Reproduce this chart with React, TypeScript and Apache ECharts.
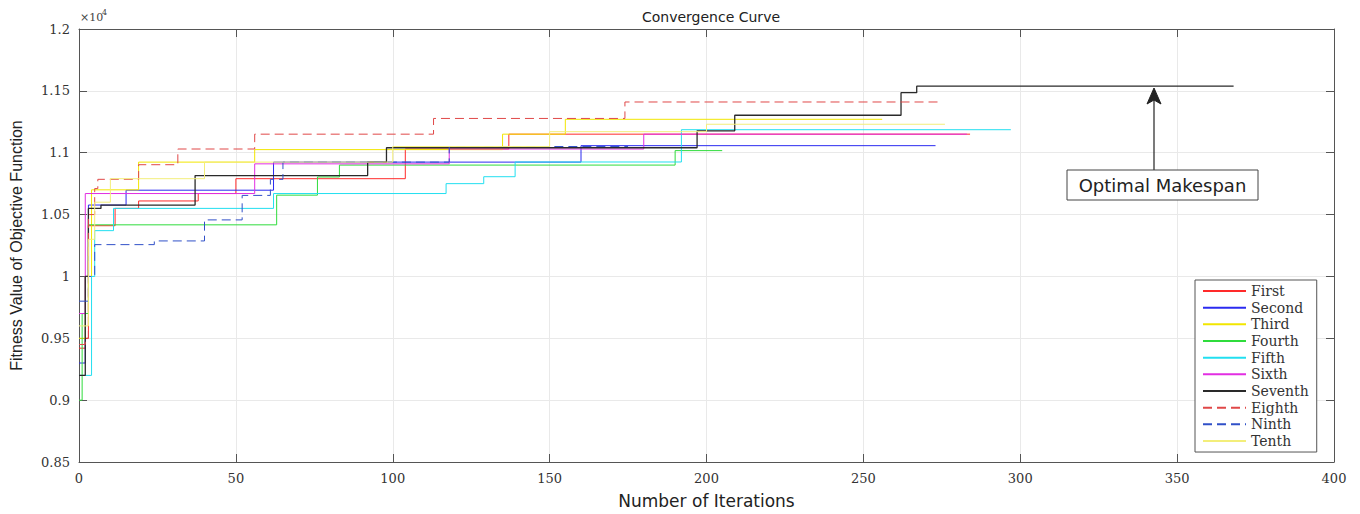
import React, { useEffect, useRef } from 'react';
import * as echarts from 'echarts';

// ---------- DATA (iteration, fitness value) ----------
const seriesNames = ['First', 'Second', 'Third', 'Fourth', 'Fifth', 'Sixth', 'Seventh', 'Eighth', 'Ninth', 'Tenth'];

const first = [[0, 9420], [2, 9500], [3, 10410], [11.5, 10550], [19, 10610], [38, 10670], [50, 10790], [104, 11030], [137, 11150], [284, 11150]];
const second = [[0, 9300], [2, 10000], [3, 10577], [15, 10697], [62, 10924], [160, 11057], [273, 11057]];
const third = [[0, 9500], [2, 10000], [4, 10700], [19, 10924], [56, 11025], [135, 11150], [155, 11270], [256, 11270]];
const fourth = [[0, 9000], [1, 9700], [3, 10417], [63, 10657], [76, 10804], [83, 10900], [190, 11017], [205, 11017]];
const fifth = [[0, 9200], [4, 10000], [5, 10370], [11, 10550], [62, 10670], [117, 10750], [129, 10806], [139, 10925], [192, 11186], [297, 11186]];
const sixth = [[0, 9700], [2, 10670], [56, 10910], [118, 11030], [180, 11150], [283, 11150]];
const seventh = [[0, 9200], [2, 10000], [3, 10550], [7, 10577], [37, 10815], [92, 10924], [98, 11040], [197, 11177], [209, 11303], [262, 11485], [267, 11538], [368, 11538]];
const eighth = [[0, 9450], [2, 9500], [3, 10500], [5, 10710], [6, 10785], [19, 10903], [31.5, 11030], [56, 11150], [113, 11277], [174, 11410], [275, 11410]];
const ninth = [[0, 9800], [3, 10000], [5, 10257], [24, 10287], [40, 10457], [52, 10655], [61, 10785], [65, 10924], [118, 11050], [175, 11050]];
const tenth = [[0, 9600], [3, 10300], [5, 10600], [10, 10790], [40, 10924], [100, 11050], [150, 11170], [200, 11230], [276, 11230]];

const seriesData = [first, second, third, fourth, fifth, sixth, seventh, eighth, ninth, tenth];

const xMin = 0;
const xMax = 400;
const xStep = 50;
const yMin = 8500;
const yMax = 12000;
const yStep = 500;

const annotationText = 'Optimal Makespan';
const titleText = 'Convergence Curve';
const xName = 'Number of Iterations';
const yName = 'Fitness Value of Objective Function';

// ---------- STYLE ----------
const seriesColors = ['#ff2a2a', '#2b2bf0', '#f2e600', '#2fdc3c', '#22dff0', '#e22ee2', '#2a2a2a', '#e04848', '#3050c8', '#f3ee7a'];
const seriesDashed = [false, false, false, false, false, false, false, true, true, false];
const axisColor = '#555555';
const gridColor = '#e9e9e9';

export default function App() {
  const ref = useRef<HTMLDivElement>(null);

  useEffect(() => {
    document.body.style.margin = '0';
    const chart = echarts.init(ref.current!, null, { renderer: 'svg' });

    const boxAxis = {
      axisLine: { show: true, onZero: false, lineStyle: { color: axisColor, width: 1 } },
      axisTick: { show: true, inside: true, length: 8, lineStyle: { color: axisColor } },
    };

    chart.setOption({
      animation: false,
      backgroundColor: '#ffffff',
      title: {
        text: titleText,
        left: 706,
        top: 5,
        textAlign: 'center',
        textStyle: { fontFamily: 'DejaVu Sans', fontSize: 14, fontWeight: 'normal', color: '#222' },
      },
      grid: { left: 79, right: 26, top: 29, bottom: 48, containLabel: false },
      legend: {
        data: seriesNames,
        orient: 'vertical',
        left: 1195,
        top: 280,
        itemWidth: 43,
        itemHeight: 14,
        itemGap: 2.67,
        padding: [4, 8, 4, 7],
        borderColor: '#555',
        borderWidth: 1,
        borderRadius: 0,
        backgroundColor: '#ffffff',
        selectedMode: false,
        itemStyle: { opacity: 0, borderWidth: 0 },
        textStyle: { fontFamily: 'DejaVu Serif', fontSize: 14, color: '#333' },
      },
      xAxis: [
        {
          type: 'value',
          min: xMin,
          max: xMax,
          interval: xStep,
          position: 'bottom',
          ...boxAxis,
          axisLabel: { margin: 10, fontFamily: 'DejaVu Serif', fontSize: 13, color: '#333' },
          splitLine: { show: true, lineStyle: { color: gridColor, width: 1 } },
          name: xName,
          nameLocation: 'middle',
          nameGap: 30,
          nameTextStyle: { fontFamily: 'DejaVu Sans', fontSize: 17, color: '#222' },
        },
        {
          type: 'value',
          min: xMin,
          max: xMax,
          interval: xStep,
          position: 'top',
          ...boxAxis,
          axisLabel: { show: false },
          splitLine: { show: false },
        },
      ],
      yAxis: [
        {
          type: 'value',
          min: yMin,
          max: yMax,
          interval: yStep,
          position: 'left',
          ...boxAxis,
          axisLabel: {
            margin: 9,
            fontFamily: 'DejaVu Serif',
            fontSize: 13,
            color: '#333',
            formatter: (v: number) => String(+(v / 10000).toFixed(2)),
          },
          splitLine: { show: true, lineStyle: { color: gridColor, width: 1 } },
          name: yName,
          nameLocation: 'middle',
          nameGap: 55,
          nameTextStyle: { fontFamily: 'Liberation Sans', fontSize: 16, color: '#222' },
        },
        {
          type: 'value',
          min: yMin,
          max: yMax,
          interval: yStep,
          position: 'right',
          ...boxAxis,
          axisLabel: { show: false },
          splitLine: { show: false },
        },
      ],
      series: seriesNames.map((name, i) => ({
        name,
        type: 'line',
        step: 'end',
        xAxisIndex: 0,
        yAxisIndex: 0,
        data: seriesData[i],
        symbol: 'none',
        showSymbol: false,
        silent: true,
        lineStyle: {
          color: seriesColors[i],
          width: i === 6 ? 1.3 : 1,
          type: seriesDashed[i] ? [9, 5] : 'solid',
        },
        itemStyle: { color: seriesColors[i] },
        z: 2 + i,
      })),
      graphic: [
        {
          type: 'text',
          left: 80,
          top: 12,
          style: { text: '×10', font: '11px "DejaVu Serif"', fill: '#444' },
        },
        {
          type: 'text',
          left: 102,
          top: 8,
          style: { text: '4', font: '8px "DejaVu Serif"', fill: '#444' },
        },
        {
          type: 'line',
          shape: { x1: 1154, y1: 170, x2: 1154, y2: 100 },
          style: { stroke: '#222', lineWidth: 1.2 },
          z: 50,
        },
        {
          type: 'polygon',
          shape: { points: [[1154, 88], [1147, 104], [1154, 100], [1161, 104]] },
          style: { fill: '#222', stroke: '#222' },
          z: 50,
        },
        {
          type: 'rect',
          shape: { x: 1067, y: 170, width: 191, height: 30 },
          style: { fill: '#ffffff', stroke: '#444', lineWidth: 1 },
          z: 50,
        },
        {
          type: 'text',
          x: 1162.5,
          y: 185,
          style: {
            text: annotationText,
            font: '18px "DejaVu Sans"',
            fill: '#222',
            textAlign: 'center',
            textVerticalAlign: 'middle',
          },
          z: 51,
        },
      ],
    });

    return () => chart.dispose();
  }, []);

  return <div ref={ref} style={{ width: 1360, height: 514 }} />;
}
